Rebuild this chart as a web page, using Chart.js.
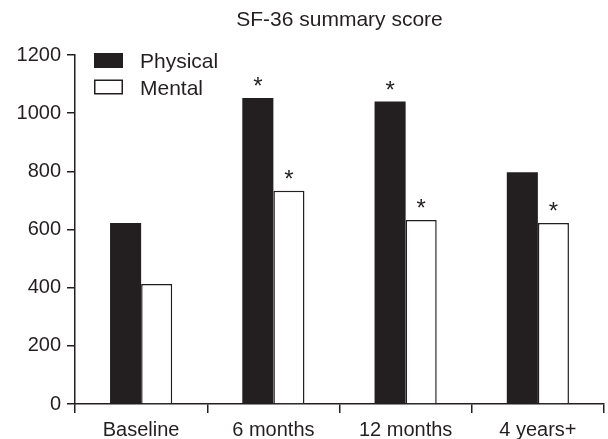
<!DOCTYPE html>
<html>
<head>
<meta charset="utf-8">
<script src="https://cdn.jsdelivr.net/npm/chart.js@4"></script>
<style>
  html, body { margin: 0; padding: 0; background: #fff; }
  #wrap { width: 608px; height: 439px; }
</style>
</head>
<body>
<div id="wrap"><canvas id="chart" width="608" height="439"></canvas></div>
<script>
const CATEGORIES = ["Baseline", "6 months", "12 months", "4 years+"];
const PHYSICAL = [622, 1052, 1040, 797];
const MENTAL = [413, 733, 633, 622];
// asterisk markers (significant vs baseline)
const PHYSICAL_SIG = [false, true, true, false];
const MENTAL_SIG = [false, true, true, true];
const Y_MIN = 0, Y_MAX = 1200, Y_STEP = 200;
const TITLE = "SF-36 summary score";

const INK = "#231f20";
const FONT = "'Liberation Sans', Arial, sans-serif";

// title + legend drawn by hand so they don't eat into the plot layout
const decor = {
  id: "decor",
  afterDraw(chart) {
    const { ctx, chartArea } = chart;
    ctx.save();
    ctx.fillStyle = INK;
    ctx.font = `21px ${FONT}`;
    ctx.textAlign = "center";
    ctx.textBaseline = "alphabetic";
    ctx.fillText(TITLE, (chartArea.left + chartArea.right) / 2, 26);

    ctx.textAlign = "left";
    chart.data.datasets.forEach((ds, i) => {
      const y = 53 + i * 26.5;
      ctx.fillStyle = ds.backgroundColor;
      ctx.fillRect(94, y, 29, 15);
      if (ds.borderWidth) {
        ctx.strokeStyle = ds.borderColor;
        ctx.lineWidth = ds.borderWidth;
        ctx.strokeRect(94.75, y + 0.75, 27.5, 13.5);
      }
      ctx.fillStyle = INK;
      ctx.fillText(ds.label, 140, y + 15.3);
    });
    ctx.restore();
  },
  afterDatasetsDraw(chart) {
    const { ctx } = chart;
    ctx.save();
    ctx.fillStyle = INK;
    ctx.font = `24px ${FONT}`;
    ctx.textAlign = "center";
    ctx.textBaseline = "alphabetic";
    chart.data.datasets.forEach((ds, i) => {
      const meta = chart.getDatasetMeta(i);
      meta.data.forEach((bar, j) => {
        if (ds.sig[j]) ctx.fillText("*", bar.x, bar.y - 4);
      });
    });
    ctx.restore();
  },
};

new Chart(document.getElementById("chart"), {
  type: "bar",
  data: {
    labels: CATEGORIES,
    datasets: [
      {
        label: "Physical", data: PHYSICAL, sig: PHYSICAL_SIG,
        backgroundColor: INK, borderWidth: 0,
        categoryPercentage: 0.47, barPercentage: 1,
      },
      {
        label: "Mental", data: MENTAL, sig: MENTAL_SIG,
        backgroundColor: "#ffffff", borderColor: INK, borderWidth: 1.5,
        borderSkipped: "bottom",
        categoryPercentage: 0.47, barPercentage: 1,
      },
    ],
  },
  options: {
    responsive: false,
    animation: false,
    layout: { padding: { top: 55, right: 4, left: 0, bottom: 0 } },
    plugins: { legend: { display: false }, tooltip: { enabled: false }, title: { display: false } },
    scales: {
      x: {
        grid: { display: true, drawOnChartArea: false, offset: true, color: INK, lineWidth: 1.5, tickLength: 9 },
        border: { display: true, color: INK, width: 1.5 },
        ticks: { color: INK, font: { family: FONT, size: 20 }, padding: 5, maxRotation: 0 },
        afterFit(scale) { scale.height = 35; },
      },
      y: {
        min: Y_MIN, max: Y_MAX,
        grid: { display: true, drawOnChartArea: false, color: INK, lineWidth: 1.5, tickLength: 8 },
        border: { display: true, color: INK, width: 1.5 },
        ticks: {
          stepSize: Y_STEP, color: INK, font: { family: FONT, size: 20 }, padding: 6,
          callback: (v) => String(v),
        },
        afterFit(scale) { scale.width = 75; },
      },
    },
  },
  plugins: [decor],
});
</script>
</body>
</html>
